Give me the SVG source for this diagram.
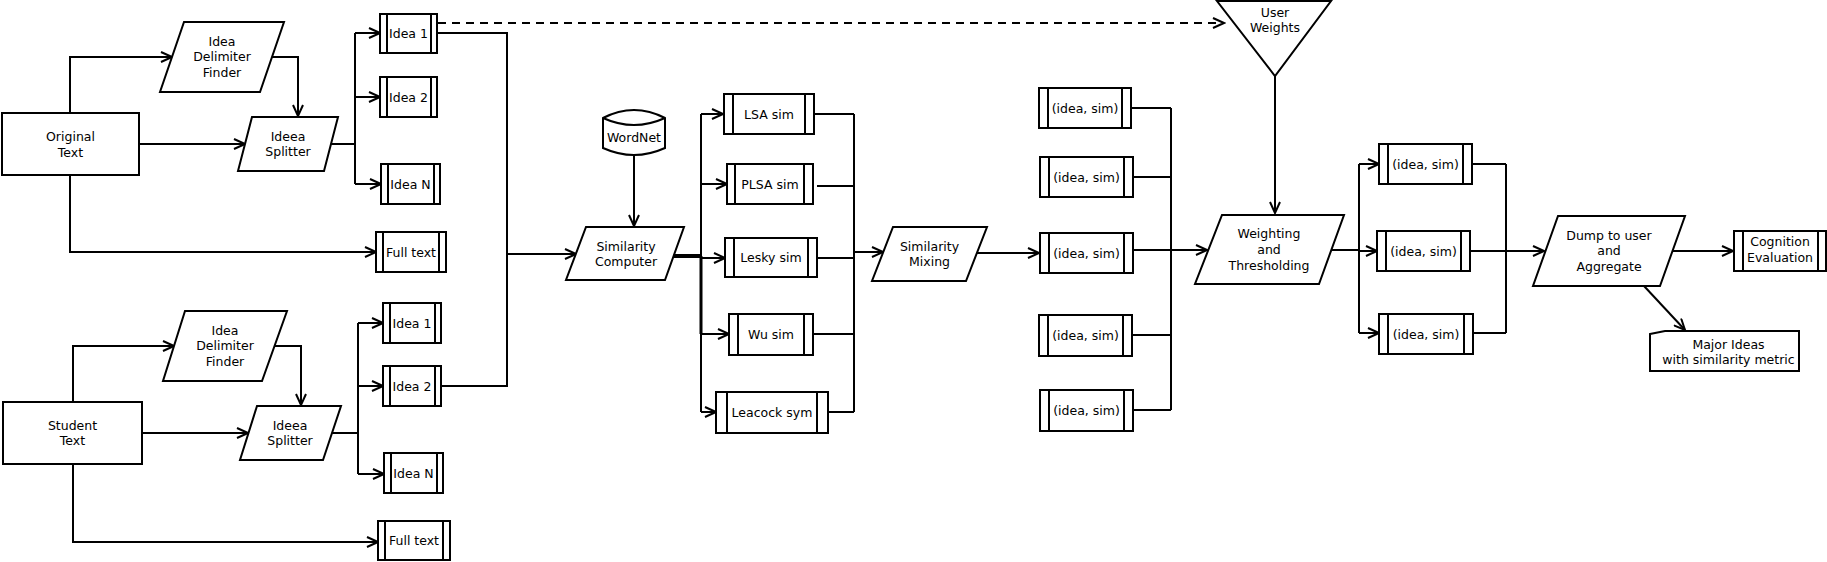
<svg xmlns="http://www.w3.org/2000/svg" width="1827" height="562" viewBox="0 0 1827 562">
<style>
  .shape{fill:#fff;stroke:#000;stroke-width:2}
  .bar{stroke:#000;stroke-width:2}
  .c{fill:none;stroke:#000;stroke-width:2}
  .a{marker-end:url(#arr)}
  .d{stroke-dasharray:8,6}
  text{font-family:"DejaVu Sans","Liberation Sans",sans-serif;font-size:12.5px;fill:#000;text-anchor:middle}
</style>
<defs>
  <marker id="arr" markerUnits="userSpaceOnUse" markerWidth="14" markerHeight="12" refX="12" refY="6" orient="auto" viewBox="0 0 14 12">
    <path d="M1,1 L12,6 L1,11" fill="none" stroke="#000" stroke-width="2"/>
  </marker>
</defs>
<rect width="1827" height="562" fill="#fff"/>

<g id="connectors">
  <!-- original text branch -->
  <polyline class="c a" points="70,113 70,57 172,57"/>
  <polyline class="c a" points="272,57 298,57 298,116"/>
  <line class="c a" x1="139" y1="144" x2="245" y2="144"/>
  <polyline class="c" points="331,144 355,144"/>
  <line class="c" x1="355" y1="33" x2="355" y2="184"/>
  <line class="c a" x1="355" y1="33" x2="380" y2="33"/>
  <line class="c a" x1="355" y1="97" x2="380" y2="97"/>
  <line class="c a" x1="355" y1="184" x2="381" y2="184"/>
  <polyline class="c a" points="70,175 70,252 376,252"/>
  <!-- student text branch -->
  <polyline class="c a" points="73,402 73,346 174,346"/>
  <polyline class="c a" points="274,346 301,346 301,405"/>
  <line class="c a" x1="142" y1="433" x2="248" y2="433"/>
  <line class="c" x1="331" y1="433" x2="358" y2="433"/>
  <line class="c" x1="358" y1="323" x2="358" y2="474"/>
  <line class="c a" x1="358" y1="323" x2="383" y2="323"/>
  <line class="c a" x1="358" y1="386" x2="383" y2="386"/>
  <line class="c a" x1="358" y1="474" x2="384" y2="474"/>
  <polyline class="c a" points="73,464 73,542 378,542"/>
  <!-- ideas to similarity computer -->
  <polyline class="c" points="437,33 507,33 507,386 441,386"/>
  <line class="c a" x1="507" y1="254" x2="576" y2="254"/>
  <!-- dashed to user weights -->
  <line class="c a d" x1="438" y1="23" x2="1224" y2="23"/>
  <!-- wordnet -->
  <line class="c a" x1="634" y1="155" x2="634" y2="226"/>
  <!-- computer to sims -->
  <line class="c" x1="674" y1="256" x2="701" y2="256" style="stroke-width:4"/>
  <line class="c" x1="701" y1="114" x2="701" y2="412"/>
  <line class="c" x1="701" y1="256" x2="701" y2="334" style="stroke-width:3"/>
  <line class="c a" x1="701" y1="114" x2="723" y2="114"/>
  <line class="c a" x1="701" y1="184" x2="727" y2="184"/>
  <line class="c a" x1="701" y1="258" x2="725" y2="258"/>
  <line class="c a" x1="701" y1="334" x2="729" y2="334"/>
  <line class="c a" x1="701" y1="412" x2="716" y2="412"/>
  <!-- sims to mixing -->
  <line class="c" x1="814" y1="114" x2="854" y2="114"/>
  <line class="c" x1="817" y1="186" x2="854" y2="186"/>
  <line class="c" x1="817" y1="258" x2="854" y2="258"/>
  <line class="c" x1="813" y1="334" x2="854" y2="334"/>
  <line class="c" x1="828" y1="412" x2="854" y2="412"/>
  <line class="c" x1="854" y1="114" x2="854" y2="412"/>
  <line class="c a" x1="854" y1="252" x2="883" y2="252"/>
  <!-- mixing to (idea, sim) -->
  <line class="c a" x1="977" y1="253" x2="1039" y2="253"/>
  <!-- left column to weighting -->
  <line class="c" x1="1131" y1="108" x2="1171" y2="108"/>
  <line class="c" x1="1133" y1="177" x2="1171" y2="177"/>
  <line class="c a" x1="1133" y1="250" x2="1207" y2="250"/>
  <line class="c" x1="1132" y1="335" x2="1171" y2="335"/>
  <line class="c" x1="1133" y1="410" x2="1171" y2="410"/>
  <line class="c" x1="1171" y1="108" x2="1171" y2="410"/>
  <!-- user weights to weighting -->
  <line class="c a" x1="1275" y1="76" x2="1275" y2="213"/>
  <!-- weighting to right column -->
  <line class="c" x1="1331" y1="250" x2="1359" y2="250"/>
  <line class="c" x1="1359" y1="164" x2="1359" y2="333"/>
  <line class="c a" x1="1359" y1="164" x2="1379" y2="164"/>
  <line class="c a" x1="1359" y1="251" x2="1377" y2="251"/>
  <line class="c a" x1="1359" y1="333" x2="1379" y2="333"/>
  <!-- right column to dump -->
  <line class="c" x1="1472" y1="164" x2="1506" y2="164"/>
  <line class="c a" x1="1470" y1="251" x2="1544" y2="251"/>
  <line class="c" x1="1473" y1="333" x2="1506" y2="333"/>
  <line class="c" x1="1506" y1="164" x2="1506" y2="333"/>
  <!-- dump outputs -->
  <line class="c a" x1="1672" y1="251" x2="1733" y2="251"/>
  <line class="c a" x1="1644" y1="286" x2="1685" y2="330"/>
</g>

<g id="original-text">
  <rect class="shape" x="2" y="113" width="137" height="62"/>
  <text x="70.5" y="141">Original</text>
  <text x="70.5" y="156.5">Text</text>
</g>
<g id="delimiter-finder-1">
  <polygon class="shape" points="184,22 284,22 260,92 160,92"/>
  <text x="222" y="45.5">Idea</text>
  <text x="222" y="61">Delimiter</text>
  <text x="222" y="76.5">Finder</text>
</g>
<g id="splitter-1">
  <polygon class="shape" points="252,117 338,117 324,171 238,171"/>
  <text x="288" y="140.5">Ideea</text>
  <text x="288" y="156">Splitter</text>
</g>
<g id="idea1-a">
  <rect class="shape" x="380" y="14" width="57" height="39"/>
  <line class="bar" x1="387" y1="14" x2="387" y2="53"/><line class="bar" x1="431" y1="14" x2="431" y2="53"/>
  <text x="408.5" y="38">Idea 1</text>
</g>
<g id="idea2-a">
  <rect class="shape" x="380" y="77" width="57" height="40"/>
  <line class="bar" x1="387" y1="77" x2="387" y2="117"/><line class="bar" x1="431" y1="77" x2="431" y2="117"/>
  <text x="408.5" y="101.5">Idea 2</text>
</g>
<g id="ideaN-a">
  <rect class="shape" x="381" y="164" width="59" height="40"/>
  <line class="bar" x1="388" y1="164" x2="388" y2="204"/><line class="bar" x1="434" y1="164" x2="434" y2="204"/>
  <text x="410.5" y="188.5">Idea N</text>
</g>
<g id="fulltext-a">
  <rect class="shape" x="376" y="232" width="70" height="40"/>
  <line class="bar" x1="383" y1="232" x2="383" y2="272"/><line class="bar" x1="439" y1="232" x2="439" y2="272"/>
  <text x="411" y="256.5">Full text</text>
</g>

<g id="student-text">
  <rect class="shape" x="3" y="402" width="139" height="62"/>
  <text x="72.5" y="429.5">Student</text>
  <text x="72.5" y="445">Text</text>
</g>
<g id="delimiter-finder-2">
  <polygon class="shape" points="185,311 287,311 262,381 163,381"/>
  <text x="225" y="334.5">Idea</text>
  <text x="225" y="350">Delimiter</text>
  <text x="225" y="365.5">Finder</text>
</g>
<g id="splitter-2">
  <polygon class="shape" points="257,406 341,406 323,460 240,460"/>
  <text x="290" y="429.5">Ideea</text>
  <text x="290" y="445">Splitter</text>
</g>
<g id="idea1-b">
  <rect class="shape" x="383" y="303" width="58" height="40"/>
  <line class="bar" x1="390" y1="303" x2="390" y2="343"/><line class="bar" x1="435" y1="303" x2="435" y2="343"/>
  <text x="412" y="327.5">Idea 1</text>
</g>
<g id="idea2-b">
  <rect class="shape" x="383" y="366" width="58" height="40"/>
  <line class="bar" x1="390" y1="366" x2="390" y2="406"/><line class="bar" x1="435" y1="366" x2="435" y2="406"/>
  <text x="412" y="390.5">Idea 2</text>
</g>
<g id="ideaN-b">
  <rect class="shape" x="384" y="453" width="59" height="40"/>
  <line class="bar" x1="391" y1="453" x2="391" y2="493"/><line class="bar" x1="437" y1="453" x2="437" y2="493"/>
  <text x="413.5" y="477.5">Idea N</text>
</g>
<g id="fulltext-b">
  <rect class="shape" x="378" y="521" width="72" height="39"/>
  <line class="bar" x1="385" y1="521" x2="385" y2="560"/><line class="bar" x1="443" y1="521" x2="443" y2="560"/>
  <text x="414" y="545">Full text</text>
</g>

<g id="wordnet">
  <path class="shape" d="M603,118 Q634,102 665,118 V148 Q634,162 603,148 Z"/>
  <path class="c" d="M603,118 Q634,132 665,118"/>
  <text x="634" y="141.5">WordNet</text>
</g>
<g id="similarity-computer">
  <polygon class="shape" points="586,227 684,227 665,280 566,280"/>
  <text x="626" y="250.5">Similarity</text>
  <text x="626" y="266">Computer</text>
</g>
<g id="lsa-sim">
  <rect class="shape" x="724" y="94" width="90" height="40"/>
  <line class="bar" x1="733" y1="94" x2="733" y2="134"/><line class="bar" x1="805" y1="94" x2="805" y2="134"/>
  <text x="769" y="118.5">LSA sim</text>
</g>
<g id="plsa-sim">
  <rect class="shape" x="727" y="164" width="86" height="40"/>
  <line class="bar" x1="735" y1="164" x2="735" y2="204"/><line class="bar" x1="804" y1="164" x2="804" y2="204"/>
  <text x="770" y="188.5">PLSA sim</text>
</g>
<g id="lesky-sim">
  <rect class="shape" x="725" y="238" width="92" height="39"/>
  <line class="bar" x1="734" y1="238" x2="734" y2="277"/><line class="bar" x1="808" y1="238" x2="808" y2="277"/>
  <text x="771" y="262">Lesky sim</text>
</g>
<g id="wu-sim">
  <rect class="shape" x="729" y="314" width="84" height="41"/>
  <line class="bar" x1="738" y1="314" x2="738" y2="355"/><line class="bar" x1="804" y1="314" x2="804" y2="355"/>
  <text x="771" y="339">Wu sim</text>
</g>
<g id="leacock-sym">
  <rect class="shape" x="716" y="392" width="112" height="41"/>
  <line class="bar" x1="727" y1="392" x2="727" y2="433"/><line class="bar" x1="817" y1="392" x2="817" y2="433"/>
  <text x="772" y="417">Leacock sym</text>
</g>
<g id="similarity-mixing">
  <polygon class="shape" points="893,227 987,227 966,281 872,281"/>
  <text x="929.5" y="250.5">Similarity</text>
  <text x="929.5" y="266">Mixing</text>
</g>

<g id="pair-l1">
  <rect class="shape" x="1039" y="88" width="92" height="40"/>
  <line class="bar" x1="1048" y1="88" x2="1048" y2="128"/><line class="bar" x1="1122" y1="88" x2="1122" y2="128"/>
  <text x="1085" y="112.5">(idea, sim)</text>
</g>
<g id="pair-l2">
  <rect class="shape" x="1040" y="157" width="93" height="40"/>
  <line class="bar" x1="1049" y1="157" x2="1049" y2="197"/><line class="bar" x1="1124" y1="157" x2="1124" y2="197"/>
  <text x="1086.5" y="181.5">(idea, sim)</text>
</g>
<g id="pair-l3">
  <rect class="shape" x="1040" y="233" width="93" height="40"/>
  <line class="bar" x1="1049" y1="233" x2="1049" y2="273"/><line class="bar" x1="1124" y1="233" x2="1124" y2="273"/>
  <text x="1086.5" y="257.5">(idea, sim)</text>
</g>
<g id="pair-l4">
  <rect class="shape" x="1039" y="315" width="93" height="41"/>
  <line class="bar" x1="1048" y1="315" x2="1048" y2="356"/><line class="bar" x1="1123" y1="315" x2="1123" y2="356"/>
  <text x="1085.5" y="340">(idea, sim)</text>
</g>
<g id="pair-l5">
  <rect class="shape" x="1040" y="390" width="93" height="41"/>
  <line class="bar" x1="1049" y1="390" x2="1049" y2="431"/><line class="bar" x1="1124" y1="390" x2="1124" y2="431"/>
  <text x="1086.5" y="415">(idea, sim)</text>
</g>

<g id="user-weights">
  <polygon class="shape" points="1217,1 1331,1 1275,76"/>
  <text x="1275" y="16.5">User</text>
  <text x="1275" y="31.5">Weights</text>
</g>
<g id="weighting">
  <polygon class="shape" points="1222,215 1344,215 1319,284 1195,284"/>
  <text x="1269" y="238">Weighting</text>
  <text x="1269" y="253.5">and</text>
  <text x="1269" y="269.5">Thresholding</text>
</g>

<g id="pair-r1">
  <rect class="shape" x="1379" y="144" width="93" height="40"/>
  <line class="bar" x1="1388" y1="144" x2="1388" y2="184"/><line class="bar" x1="1463" y1="144" x2="1463" y2="184"/>
  <text x="1425.5" y="168.5">(idea, sim)</text>
</g>
<g id="pair-r2">
  <rect class="shape" x="1377" y="231" width="93" height="40"/>
  <line class="bar" x1="1386" y1="231" x2="1386" y2="271"/><line class="bar" x1="1461" y1="231" x2="1461" y2="271"/>
  <text x="1423.5" y="255.5">(idea, sim)</text>
</g>
<g id="pair-r3">
  <rect class="shape" x="1379" y="314" width="94" height="40"/>
  <line class="bar" x1="1388" y1="314" x2="1388" y2="354"/><line class="bar" x1="1464" y1="314" x2="1464" y2="354"/>
  <text x="1426" y="338.5">(idea, sim)</text>
</g>

<g id="dump-aggregate">
  <polygon class="shape" points="1558,216 1685,216 1660,286 1533,286"/>
  <text x="1609" y="239.5">Dump to user</text>
  <text x="1609" y="255">and</text>
  <text x="1609" y="270.5">Aggregate</text>
</g>
<g id="cognition-evaluation">
  <rect class="shape" x="1734" y="231" width="92" height="40"/>
  <line class="bar" x1="1743" y1="231" x2="1743" y2="271"/><line class="bar" x1="1818" y1="231" x2="1818" y2="271"/>
  <text x="1780" y="246">Cognition</text>
  <text x="1780" y="262">Evaluation</text>
</g>
<g id="major-ideas">
  <path class="shape" d="M1650,334 L1665,331 L1799,331 L1799,371 L1650,371 Z"/>
  <text x="1728.5" y="348.5">Major Ideas</text>
  <text x="1728.5" y="364">with similarity metric</text>
</g>
</svg>
